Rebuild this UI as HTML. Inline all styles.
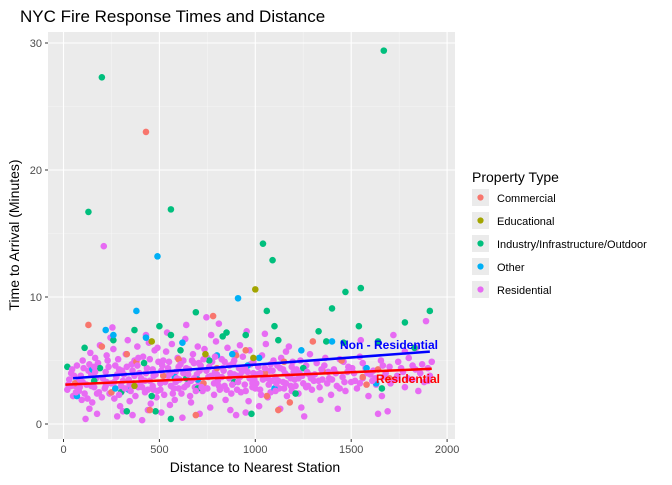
<!DOCTYPE html>
<html><head><meta charset="utf-8"><style>
body{margin:0;background:#fff;}
svg text{font-family:"Liberation Sans",Arial,sans-serif;}
</style></head><body>
<svg id="chart" width="672" height="480" xmlns="http://www.w3.org/2000/svg">
<text x="20" y="22" font-size="17" fill="#000">NYC Fire Response Times and Distance</text>
<rect x="48" y="32" width="407" height="407" fill="#ebebeb"/>
<g id="grid"></g>
<g id="pts"></g>
<g id="fits"></g>
<g id="axes"></g>
<text x="255" y="472" font-size="14" text-anchor="middle">Distance to Nearest Station</text>
<text transform="translate(19,235) rotate(-90)" font-size="14" text-anchor="middle">Time to Arrival (Minutes)</text>
<g id="legend">
<text x="472" y="182" font-size="14">Property Type</text>
</g>
</svg>
<script>
const xTicks=[0,500,1000,1500,2000];
const yTicks=[0,10,20,30];
const categories=["Commercial","Educational","Industry/Infrastructure/Outdoor","Other","Residential"];
const colors=["#F8766D","#A3A500","#00BF7D","#00B0F6","#E76BF3"];
const resPts=[[20,2.7],[30,3.5],[40,4.0],[50,2.2],[60,3.0],[70,4.6],[80,2.6],[90,3.8],[100,5.0],[95,1.9],[75,3.3],
[110,2.4],[120,3.1],[130,4.2],[140,5.6],[150,1.7],[160,2.9],[170,3.6],[180,4.8],[190,6.2],[200,2.1],[115,0.4],[135,1.2],[175,0.8],[165,5.2],[145,3.9],
[210,14.0],[215,2.8],[225,3.3],[235,4.5],[245,6.8],[255,7.6],[265,2.0],[275,3.7],[285,5.1],[295,1.4],[220,4.1],[240,2.4],[260,5.9],[280,0.6],[290,4.3],[300,3.0],
[305,2.6],[315,3.9],[325,5.5],[335,6.6],[345,1.8],[355,4.7],[365,3.2],[375,2.2],[385,6.1],[395,4.0],[310,1.0],[340,3.5],[370,5.0],[390,2.9],[360,0.7],
[405,3.6],[415,5.3],[425,2.5],[435,4.4],[445,6.4],[455,1.6],[465,3.0],[475,5.8],[485,2.1],[495,4.9],[410,0.3],[430,7.0],[450,3.4],[470,2.7],[490,6.0],[440,1.1],
[505,3.2],[515,4.6],[525,2.3],[535,5.7],[545,3.8],[555,1.5],[565,6.3],[575,2.8],[585,4.1],[595,5.2],[510,0.9],[540,7.2],[560,3.0],[580,1.9],[600,4.5],
[605,3.5],[615,2.4],[625,5.0],[635,6.7],[645,3.1],[655,4.3],[665,1.7],[675,5.5],[685,2.9],[695,3.9],[620,0.5],[640,7.8],[660,2.2],[680,4.8],[700,6.1],
[705,3.3],[715,4.6],[725,2.6],[735,5.9],[745,8.4],[755,3.7],[765,1.3],[775,4.9],[785,2.3],[795,6.5],[710,0.8],[730,3.0],[750,5.2],[770,7.0],[790,4.1],
[805,3.4],[815,2.7],[825,5.1],[835,4.2],[845,1.9],[855,6.0],[865,3.6],[875,2.4],[885,4.8],[895,5.6],[810,7.9],[840,3.0],[870,1.1],[890,3.9],[900,0.7],
[905,3.8],[915,4.4],[925,2.5],[935,5.3],[945,3.1],[955,7.3],[965,1.8],[975,4.7],[985,2.9],[995,3.5],[920,6.2],[950,0.9],[970,5.8],[990,4.0],
[1005,3.2],[1015,4.5],[1025,2.7],[1035,5.4],[1045,3.9],[1055,6.3],[1065,2.1],[1075,4.2],[1085,3.4],[1095,5.0],[1020,1.4],[1050,7.1],[1080,2.5],
[1105,3.7],[1115,4.6],[1125,2.8],[1135,5.2],[1145,3.3],[1155,4.0],[1165,2.2],[1175,6.1],[1185,3.6],[1195,4.9],[1130,1.2],[1160,5.7],[1190,2.6],
[1205,3.5],[1215,4.3],[1225,2.4],[1235,5.0],[1245,3.8],[1255,0.6],[1265,4.6],[1275,3.0],[1285,5.5],[1295,2.7],[1240,1.3],
[1310,3.9],[1320,4.8],[1335,2.9],[1350,3.5],[1365,5.2],[1380,4.1],[1395,2.3],[1340,1.9],[1375,3.2],
[1410,4.3],[1425,3.0],[1440,5.1],[1455,3.7],[1470,2.6],[1485,4.5],[1500,3.3],[1430,1.2],[1460,4.9],
[1515,4.0],[1530,2.8],[1545,5.3],[1560,3.6],[1575,4.4],[1590,2.2],[1600,3.9],[1550,6.6],
[1615,4.2],[1630,3.1],[1640,0.8],[1655,5.0],[1670,3.7],[1690,1.0],[1700,4.5],[1660,2.2],
[1720,7.0],[1740,3.8],[1760,4.4],[1780,2.9],[1800,5.2],[1820,3.5],[1850,2.6],[1870,4.7],[1890,8.1],[1900,4.4],[1910,3.8],[1920,4.9],[1840,6.0],[1780,5.7]];
const resPts2=[[25,3.1],[45,4.3],[65,2.5],[85,3.5],[105,4.4],[125,2.0],[145,3.0],[165,4.1],[185,2.5],[205,3.6],[230,5.0],[250,3.2],[270,4.6],[290,2.3],[310,3.4],[330,4.5],[350,2.6],[370,3.8],[390,5.2],[410,2.9],[430,4.0],[450,5.1],[470,3.8],[490,2.6],[510,4.2],[530,3.3],[550,4.9],[570,2.4],[590,3.6],[610,4.7],[630,2.9],[650,3.9],[670,5.0],[690,2.6],[710,4.2],[730,5.1],[750,2.8],[770,3.8],[790,5.3],[810,3.0],[830,4.4],[850,2.7],[870,4.0],[890,5.0],[910,3.3],[930,4.1],[950,2.6],[970,3.6],[990,4.9],[1010,3.9],[1030,2.3],[1050,4.4],[1070,3.1],[1090,4.2],[1110,3.2],[1130,4.4],[1150,2.8],[1170,3.8],[1190,4.5],[1210,3.0],[1230,4.0],[1250,3.2],[1270,4.1],[1290,3.6],
[55,3.8],[85,2.9],[135,4.7],[175,2.4],[225,5.4],[265,3.3],[305,4.2],[345,3.1],[385,4.6],[425,3.4],[465,4.3],[505,2.7],[545,4.4],[585,3.3],[625,4.0],[665,3.4],[705,4.8],[745,4.2],[785,3.2],[825,3.7],[865,4.6],[905,2.7],[945,4.4],[985,3.2],[1025,4.0],[1065,3.6],[1105,2.6],[1145,4.3],[1185,3.0],[1225,3.6],[1265,2.9],[1305,3.4],[1345,4.3],[1385,3.6],[1420,4.0],[1465,3.3],[1505,4.4],[1545,3.2],[1585,4.0],[1625,3.6],[1665,4.6],[1705,3.2],[1745,4.9],[1795,3.6],[1835,4.3],[1880,3.3],
[40,3.0],[100,3.3],[160,4.5],[220,3.0],[280,3.9],[320,2.8],[360,4.2],[400,3.1],[440,2.7],[480,3.9],[520,5.0],[560,4.0],[600,2.8],[640,4.4],[680,3.6],[720,2.9],[760,4.5],[800,3.9],[840,4.9],[880,3.1],[920,3.7],[960,4.1],[1000,2.8],[1040,3.5],[1080,4.7],[1120,3.4],[1160,3.2],[1200,4.1],[1280,3.9],[1330,3.4],[1360,4.6],[1400,3.5],[1440,2.8],[1480,4.1],[1520,3.4],[1560,4.8],[1610,3.4],[1680,4.0],[1730,3.5],[1770,4.1],[1820,4.6],[1860,4.0],[1900,3.4]];
const indPts=[[200,27.3],[1670,29.4],[130,16.7],[560,16.9],[1040,14.2],[1090,12.9],[1470,10.4],[1550,10.7],[1400,9.1],[1910,8.9],[690,8.8],[1060,8.9],[1780,8.0],[1540,7.7],[1100,7.7],[500,7.7],[370,7.4],[950,7.0],[850,7.2],[110,6.0],[260,6.6],[560,7.0],[1330,7.3],[1460,6.4],[1640,6.5],[1830,6.0],[480,1.0],[560,0.4],[980,0.8],[330,1.0],[190,4.4],[420,4.8],[640,3.6],[760,5.0],[1120,6.6],[1250,4.4],[890,3.3],[300,2.5],[700,2.8],[1210,2.4],[1660,2.8],[610,5.8],[1370,6.5],[20,4.5],[160,3.4],[460,2.2],[830,6.9]];
const comPts=[[430,23.0],[130,7.8],[780,8.5],[1300,6.5],[1450,5.0],[330,5.5],[200,6.1],[600,5.1],[900,5.4],[1050,4.0],[1150,4.9],[1350,4.2],[1560,3.7],[1700,3.6],[1640,4.3],[1180,1.7],[1120,1.1],[1060,2.2],[690,0.7],[450,1.1],[250,2.5],[520,3.8],[800,4.4],[950,5.8],[730,3.2],[380,4.9],[60,3.2],[1580,3.1]];
const othPts=[[490,13.2],[910,9.9],[380,8.9],[220,7.4],[260,7.0],[430,6.8],[620,6.4],[1400,6.5],[1240,5.8],[1580,4.4],[1630,3.2],[1100,2.8],[270,2.8],[340,2.7],[70,2.2],[800,5.4],[880,5.5],[1020,5.2],[700,3.5],[580,3.7],[150,4.3],[960,4.6]];
const eduPts=[[1000,10.6],[460,6.5],[990,5.2],[370,3.0],[740,5.5]];
const fitNonRes=[[50,3.6],[1910,5.7]];
const fitRes=[[10,3.1],[1920,4.35]];

const NS="http://www.w3.org/2000/svg";
const X=v=>63.5+v*0.1918, Y=v=>424-v*12.7;
function mk(tag,attrs,parent){const e=document.createElementNS(NS,tag);for(const k in attrs)e.setAttribute(k,attrs[k]);parent.appendChild(e);return e;}
const grid=document.getElementById('grid');
for(let v=250;v<2000;v+=500){const l=mk('line',{x1:X(v),x2:X(v),y1:32,y2:439,stroke:'#f5f5f5','stroke-width':0.6},grid);}
for(let v=5;v<30;v+=10){const l=mk('line',{x1:48,x2:455,y1:Y(v),y2:Y(v),stroke:'#f5f5f5','stroke-width':0.6},grid);}
const axes=document.getElementById('axes');
xTicks.forEach(v=>{const l=mk('line',{x1:X(v),x2:X(v),y1:32,y2:439,stroke:'#fff','stroke-width':1.1},grid);
 const t=mk('line',{x1:X(v),x2:X(v),y1:439,y2:442,stroke:'#333'},axes);
 const tx=mk('text',{x:X(v),y:453,'font-size':11,fill:'#4d4d4d','text-anchor':'middle'},axes);tx.textContent=v;});
yTicks.forEach(v=>{const l=mk('line',{x1:48,x2:455,y1:Y(v),y2:Y(v),stroke:'#fff','stroke-width':1.1},grid);
 const t=mk('line',{x1:45,x2:48,y1:Y(v),y2:Y(v),stroke:'#333'},axes);
 const tx=mk('text',{x:42,y:Y(v)+4,'font-size':11,fill:'#4d4d4d','text-anchor':'end'},axes);tx.textContent=v;});
const pts=document.getElementById('pts');
function drawPts(arr,col,name){arr.forEach(p=>{const c=mk('circle',{cx:X(p[0]),cy:Y(p[1]),r:3.3,fill:col},pts);});}
drawPts(resPts,colors[4],'point-residential');
drawPts(indPts,colors[2],'point-industry');
drawPts(comPts,colors[0],'point-commercial');
drawPts(othPts,colors[3],'point-other');
drawPts(resPts2,colors[4],'point-residential');
drawPts(eduPts,colors[1],'point-educational');
const fits=document.getElementById('fits');
const bl=mk('line',{x1:X(fitNonRes[0][0]),y1:Y(fitNonRes[0][1]),x2:X(fitNonRes[1][0]),y2:Y(fitNonRes[1][1]),stroke:'#0000ff','stroke-width':2.5},fits);


const rl=mk('line',{x1:X(fitRes[0][0]),y1:Y(fitRes[0][1]),x2:X(fitRes[1][0]),y2:Y(fitRes[1][1]),stroke:'#ff0000','stroke-width':2.5},fits);


const t1=mk('text',{x:389,y:349,'font-size':12,'font-weight':'bold',fill:'#0000ff','text-anchor':'middle'},fits);t1.textContent='Non - Residential';


const t2=mk('text',{x:408,y:383,'font-size':12,'font-weight':'bold',fill:'#ff0000','text-anchor':'middle'},fits);t2.textContent='Residential';


const lg=document.getElementById('legend');
categories.forEach((c,i)=>{const cy=198+i*23;
 const g=mk('g',{},lg);
 mk('rect',{x:472,y:cy-9,width:17,height:17,fill:'#ebebeb'},g);
 mk('circle',{cx:480.5,cy:cy-0.5,r:3.1,fill:colors[i]},g);
 const t=mk('text',{x:497,y:cy+4,'font-size':11,fill:'#000'},g);t.textContent=c;});
</script>
</body></html>
